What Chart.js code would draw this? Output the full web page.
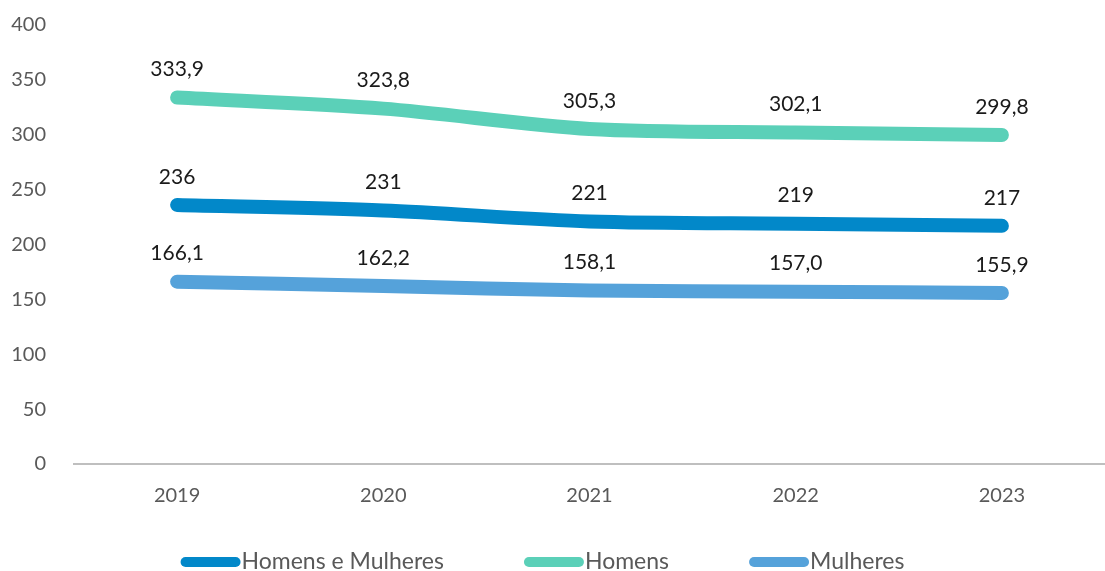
<!DOCTYPE html>
<html lang="pt">
<head>
  <meta charset="UTF-8">
  <title>Homens e Mulheres 2019-2023</title>
  <script src="https://cdn.jsdelivr.net/npm/chart.js"></script>
  <style>
    html, body { margin: 0; padding: 0; background: #fff; }
    #wrap { width: 1105px; height: 571px; }
  </style>
</head>
<body>
  <div id="wrap"><canvas id="chart" width="1105" height="571"></canvas></div>

  <script>
    // dados
    const anos = ["2019", "2020", "2021", "2022", "2023"];
    const total = [236, 231, 221, 219, 217];
    const homens = [333.9, 323.8, 305.3, 302.1, 299.8];
    const mulheres = [166.1, 162.2, 158.1, 157.0, 155.9];
    const yTicks = [0, 50, 100, 150, 200, 250, 300, 350, 400];

    const fonte = "Lato, 'Open Sans', sans-serif";

    // rótulos de valor acima dos pontos
    const rotulos = {
      id: 'rotulos',
      afterDatasetsDraw(chart) {
        const ctx = chart.ctx;
        ctx.save();
        ctx.font = "21px " + fonte;
        ctx.fillStyle = "#1a1a1a";
        ctx.textAlign = "center";
        ctx.textBaseline = "middle";
        chart.data.datasets.forEach((ds, i) => {
          const meta = chart.getDatasetMeta(i);
          meta.data.forEach((pt, j) => {
            const v = ds.data[j];
            const txt = ds.decimais ? v.toFixed(1).replace('.', ',') : String(v);
            ctx.fillText(txt, pt.x, pt.y - 28);
          });
        });
        ctx.restore();
      }
    };

    // legenda desenhada à mão (caixa arredondada colada ao texto)
    const legenda = {
      id: 'legenda',
      afterDraw(chart) {
        const ctx = chart.ctx;
        const caixaL = 60, caixaA = 10, folga = 1, entre = 80;
        ctx.save();
        ctx.font = "23px " + fonte;
        const itens = chart.data.datasets.map(ds => ({
          ds: ds, w: caixaL + folga + ctx.measureText(ds.label).width
        }));
        const total = itens.reduce((s, it) => s + it.w, 0) + entre * (itens.length - 1);
        let x = (chart.width - total) / 2 - 10;
        const y = chart.height - 9;
        itens.forEach(it => {
          ctx.fillStyle = it.ds.borderColor;
          ctx.beginPath();
          ctx.roundRect(x, y - caixaA / 2, caixaL, caixaA, caixaA / 2);
          ctx.fill();
          ctx.fillStyle = '#595959';
          ctx.textAlign = 'left';
          ctx.textBaseline = 'middle';
          ctx.fillText(it.ds.label, x + caixaL + folga, y);
          x += it.w + entre;
        });
        ctx.restore();
      }
    };

    function serie(label, data, cor, decimais) {
      return {
        label: label,
        data: data,
        borderColor: cor,
        backgroundColor: cor,
        borderWidth: 14,
        borderCapStyle: 'round',
        borderJoinStyle: 'round',
        pointRadius: 0,
        pointHoverRadius: 0,
        tension: 0.3,
        fill: false,
        decimais: decimais
      };
    }

    new Chart(document.getElementById('chart'), {
      type: 'line',
      data: {
        labels: anos,
        datasets: [
          serie('Homens e Mulheres', total, '#0288c9', false),
          serie('Homens', homens, '#5bd0b8', true),
          serie('Mulheres', mulheres, '#55a2da', true)
        ]
      },
      options: {
        responsive: false,
        animation: false,
        layout: { padding: { top: 25, left: 0, right: 0, bottom: 51 } },
        plugins: {
          tooltip: { enabled: false },
          legend: { display: false }
        },
        scales: {
          x: {
            offset: true,
            grid: { display: false },
            border: { display: true, color: '#bfbfbf', width: 2 },
            ticks: { color: '#595959', padding: 12, font: { family: fonte, size: 20 } }
          },
          y: {
            min: 0,
            max: 400,
            afterBuildTicks(axis) { axis.ticks = yTicks.map(v => ({ value: v })); },
            afterFit(axis) {
              axis.width = 74;
              axis.paddingTop = 0;
              axis.paddingBottom = 0;
            },
            grid: { display: false },
            border: { display: false },
            ticks: { color: '#595959', padding: 20, font: { family: fonte, size: 20 } }
          }
        }
      },
      plugins: [rotulos, legenda]
    });
  </script>
</body>
</html>
